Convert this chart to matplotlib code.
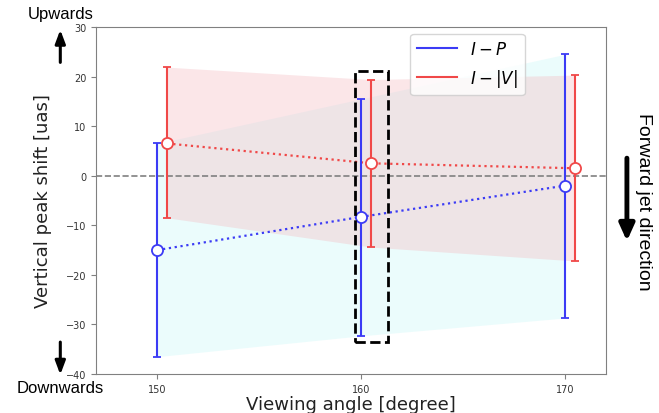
import numpy as np
import matplotlib
matplotlib.use("Agg")
import matplotlib.pyplot as plt
from matplotlib.lines import Line2D

# viewing angle and vertical peak shift
angle = [150, 160, 170]
ip_shift = [-15.0, -8.3, -2.0]
ip_upper = [6.5, 15.5, 24.5]
ip_lower = [-36.5, -32.3, -28.7]

angle_v = [150.5, 160.5, 170.5]
iv_shift = [6.5, 2.5, 1.5]
iv_upper = [21.9, 19.4, 20.3]
iv_lower = [-8.5, -14.4, -17.2]

blue = '#3b3bf5'
red = '#f04848'

fig = plt.figure(figsize=(6.59, 4.14), dpi=100)
ax = fig.add_axes([96/659, 39/414, 510/659, 347/414])

ip = np.array(ip_shift)
iv = np.array(iv_shift)
ax.fill_between(angle, ip_lower, ip_upper, color='#d8fafa', alpha=0.5, lw=0)
ax.fill_between(angle_v, iv_lower, iv_upper, color='#f4b8bf', alpha=0.35, lw=0)

ax.axhline(0, color='gray', ls='--', lw=1.2)

ax.errorbar(angle, ip, yerr=[ip - np.array(ip_lower), np.array(ip_upper) - ip],
            fmt='o', color=blue, mfc='white', mec=blue, ms=8, capsize=3, lw=1.5,
            mew=1.3, zorder=4)
ax.plot(angle, ip, ':', color=blue, lw=1.6, zorder=3)
ax.errorbar(angle_v, iv, yerr=[iv - np.array(iv_lower), np.array(iv_upper) - iv],
            fmt='o', color=red, mfc='white', mec=red, ms=8, capsize=3, lw=1.5,
            mew=1.3, zorder=4)
ax.plot(angle_v, iv, ':', color=red, lw=1.6, zorder=3)

# highlight box around 160 deg
ax.add_patch(plt.Rectangle((159.7, -33.6), 1.6, 54.8, fill=False, ec='black',
                           ls='--', lw=2, zorder=5))

ax.set_xlim(147, 172)
ax.set_ylim(-40, 30)
ax.set_xticks([150, 160, 170])
ax.set_yticks(np.arange(-40, 31, 10))
ax.tick_params(labelsize=7, colors='#333333')
ax.tick_params(color='gray')
for s in ax.spines.values():
    s.set_color('gray')

ax.set_xlabel('Viewing angle [degree]', fontsize=13, color='#222222', labelpad=1)
ax.set_ylabel('Vertical peak shift [uas]', fontsize=13, color='#222222', labelpad=10)

handles = [Line2D([], [], color=blue, lw=1.5), Line2D([], [], color=red, lw=1.5)]
ax.legend(handles, ['$I-P$', '$I-|V|$'], loc='upper left', bbox_to_anchor=(0.6, 1.005),
          fontsize=12, handlelength=2.4)

sans = 'Liberation Sans'
arrow = dict(arrowstyle='-|>,head_length=0.8,head_width=0.3', color='black', lw=2.2)
ax.annotate('', xy=(-0.07, 1.0), xytext=(-0.07, 0.89), xycoords='axes fraction',
            arrowprops=arrow, annotation_clip=False)
ax.text(-0.07, 1.04, 'Upwards', transform=ax.transAxes, ha='center', va='center',
        fontsize=12, family=sans)
ax.annotate('', xy=(-0.07, -0.01), xytext=(-0.07, 0.1), xycoords='axes fraction',
            arrowprops=arrow, annotation_clip=False)
ax.text(-0.07, -0.04, 'Downwards', transform=ax.transAxes, ha='center', va='center',
        fontsize=12, family=sans)
ax.annotate('', xy=(1.041, 0.375), xytext=(1.041, 0.63), xycoords='axes fraction',
            arrowprops=dict(arrowstyle='-|>,head_length=1.0,head_width=0.45',
                            color='black', lw=3.5), annotation_clip=False)
ax.text(1.073, 0.5, 'Forward jet direction', transform=ax.transAxes, ha='center',
        va='center', rotation=270, fontsize=14, family=sans)

fig.savefig('out.png', dpi=100)
